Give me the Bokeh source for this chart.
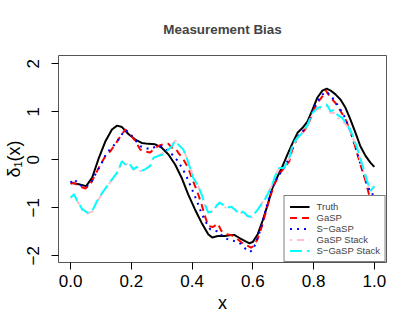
from bokeh.plotting import figure
from bokeh.models import Range1d, FixedTicker, PrintfTickFormatter, CustomJSTickFormatter, Legend, LegendItem
from bokeh.embed import file_html
from bokeh.resources import INLINE

x_truth = [0.0, 0.027, 0.051, 0.071, 0.093, 0.115, 0.136, 0.153, 0.169, 0.191, 0.213, 0.234, 0.256, 0.278, 0.300,
           0.322, 0.344, 0.365, 0.387, 0.409, 0.431, 0.453, 0.466, 0.485, 0.507, 0.529, 0.540, 0.556, 0.573, 0.589,
           0.600, 0.616, 0.632, 0.649, 0.665, 0.682, 0.698, 0.714, 0.731, 0.747, 0.763, 0.780, 0.796, 0.812, 0.829,
           0.843, 0.856, 0.872, 0.889, 0.905, 0.921, 0.938, 0.954, 0.971, 0.987, 1.0]
y_truth = [-0.48, -0.51, -0.55, -0.37, 0.04, 0.39, 0.63, 0.71, 0.68, 0.53, 0.42, 0.35, 0.33, 0.32, 0.25,
           0.11, -0.10, -0.37, -0.72, -1.03, -1.31, -1.55, -1.62, -1.59, -1.59, -1.57, -1.57, -1.63, -1.69, -1.74,
           -1.71, -1.55, -1.27, -0.93, -0.58, -0.34, -0.13, 0.11, 0.35, 0.56, 0.66, 0.80, 1.04, 1.29, 1.44,
           1.48, 1.44, 1.36, 1.25, 1.08, 0.84, 0.56, 0.28, 0.08, -0.06, -0.15]

x_gasp = [0.0, 0.011, 0.027, 0.049, 0.065, 0.082, 0.098, 0.115, 0.131, 0.147, 0.164, 0.180, 0.196, 0.213, 0.229,
          0.245, 0.262, 0.278, 0.294, 0.311, 0.322, 0.333, 0.344, 0.354, 0.371, 0.387, 0.403, 0.420, 0.431, 0.442,
          0.453, 0.469, 0.485, 0.496, 0.513, 0.529, 0.545, 0.562, 0.578, 0.594, 0.605, 0.622, 0.638, 0.654, 0.671,
          0.687, 0.703, 0.720, 0.731, 0.747, 0.763, 0.780, 0.796, 0.812, 0.829, 0.840, 0.856, 0.872, 0.889, 0.905,
          0.921, 0.938, 0.954, 0.971, 0.981, 0.989, 1.0]
y_gasp = [-0.50, -0.48, -0.55, -0.60, -0.51, -0.30, -0.10, 0.08, 0.18, 0.32, 0.49, 0.63, 0.53, 0.39, 0.21,
          0.17, 0.15, 0.25, 0.30, 0.33, 0.33, 0.25, 0.25, 0.15, 0.01, -0.17, -0.44, -0.72, -0.93, -1.17,
          -1.38, -1.40, -1.33, -1.48, -1.55, -1.57, -1.63, -1.72, -1.78, -1.83, -1.79, -1.55, -1.20, -0.82, -0.51,
          -0.30, -0.17, -0.03, 0.25, 0.46, 0.56, 0.70, 0.97, 1.18, 1.32, 1.44, 1.29, 1.18, 1.01, 0.84,
          0.60, 0.25, -0.10, -0.44, -0.69, -0.84, -0.92]

x_sgasp = [0.0, 0.011, 0.03, 0.05, 0.065, 0.08, 0.10, 0.115, 0.13, 0.15, 0.165, 0.18, 0.195, 0.21, 0.23,
           0.245, 0.26, 0.28, 0.30, 0.32, 0.34, 0.355, 0.37, 0.385, 0.40, 0.415, 0.43, 0.445, 0.46, 0.475,
           0.49, 0.50, 0.515, 0.53, 0.545, 0.56, 0.575, 0.59, 0.60, 0.615, 0.63, 0.645, 0.66, 0.675, 0.69,
           0.705, 0.72, 0.735, 0.75, 0.765, 0.78, 0.795, 0.81, 0.825, 0.84, 0.855, 0.87, 0.885, 0.90, 0.915,
           0.93, 0.945, 0.96, 0.975, 0.99, 1.0]
y_sgasp = [-0.48, -0.40, -0.53, -0.57, -0.50, -0.32, -0.10, 0.10, 0.22, 0.35, 0.50, 0.62, 0.55, 0.43, 0.28,
           0.25, 0.22, 0.27, 0.28, 0.18, 0.08, -0.05, -0.20, -0.40, -0.62, -0.85, -1.10, -1.30, -1.45, -1.48,
           -1.50, -1.60, -1.65, -1.68, -1.70, -1.75, -1.85, -1.92, -1.88, -1.65, -1.35, -0.98, -0.65, -0.42, -0.28,
           -0.15, 0.05, 0.30, 0.50, 0.60, 0.72, 0.98, 1.20, 1.33, 1.42, 1.35, 1.22, 1.08, 0.92, 0.70,
           0.42, 0.10, -0.20, -0.50, -0.72, -0.72]

x_stack = [0.0, 0.011, 0.022, 0.038, 0.055, 0.071, 0.087, 0.104, 0.120, 0.136, 0.153, 0.169, 0.180, 0.191, 0.207,
           0.218, 0.229, 0.245, 0.262, 0.273, 0.289, 0.305, 0.322, 0.333, 0.344, 0.354, 0.371, 0.382, 0.393, 0.403,
           0.420, 0.431, 0.442, 0.453, 0.469, 0.480, 0.491, 0.502, 0.513, 0.529, 0.540, 0.556, 0.567, 0.583, 0.597,
           0.611, 0.627, 0.643, 0.660, 0.676, 0.687, 0.703, 0.720, 0.731, 0.747, 0.763, 0.780, 0.796, 0.812, 0.829,
           0.843, 0.856, 0.867, 0.878, 0.894, 0.911, 0.927, 0.943, 0.960, 0.976, 0.987, 1.0]
y_gasp_stack = [-0.79, -0.75, -0.86, -1.05, -1.12, -1.08, -0.88, -0.70, -0.55, -0.42, -0.28, -0.05, -0.11, -0.07, -0.21,
                -0.16, -0.24, -0.20, -0.12, 0.05, 0.09, 0.14, 0.24, 0.31, 0.40, 0.34, 0.22, 0.05, -0.15, -0.36,
                -0.55, -0.73, -0.94, -1.10, -1.07, -0.97, -0.90, -0.95, -1.01, -0.99, -1.04, -1.13, -1.09, -1.18, -1.20,
                -1.07, -0.93, -0.77, -0.57, -0.30, -0.18, -0.17, 0.03, 0.30, 0.44, 0.55, 0.71, 0.94, 1.05, 1.08,
                1.12, 0.97, 0.98, 0.88, 0.81, 0.70, 0.50, 0.22, -0.12, -0.46, -0.66, -0.57]
y_sgasp_stack = [-0.79, -0.72, -0.86, -1.03, -1.10, -1.07, -0.86, -0.69, -0.55, -0.41, -0.27, -0.03, -0.10, -0.06, -0.20,
                 -0.15, -0.24, -0.20, -0.13, 0.04, 0.08, 0.11, 0.21, 0.28, 0.39, 0.32, 0.21, 0.04, -0.17, -0.37,
                 -0.55, -0.72, -0.93, -1.10, -1.07, -0.96, -0.89, -0.94, -1.00, -0.98, -1.03, -1.13, -1.08, -1.17, -1.19,
                 -1.08, -0.94, -0.79, -0.58, -0.30, -0.17, -0.17, 0.04, 0.32, 0.46, 0.56, 0.73, 0.97, 1.08, 1.11,
                 1.15, 1.01, 1.04, 0.94, 0.87, 0.73, 0.53, 0.25, -0.10, -0.44, -0.65, -0.55]

x_ticks = [0.0, 0.2, 0.4, 0.6, 0.8, 1.0]
y_ticks = [-2, -1, 0, 1, 2]
labels = ["Truth", "GaSP", "S\u2212GaSP", "GaSP Stack", "S\u2212GaSP Stack"]

FONT = "Liberation Sans"

p = figure(width=415, height=332, output_backend="svg", toolbar_location=None,
           x_range=Range1d(-0.04, 1.04), y_range=Range1d(-2.14, 2.17),
           min_border_left=57, min_border_right=29, min_border_top=54, min_border_bottom=70,
           title="Measurement Bias")
p.title.text_font = FONT
p.title.text_font_size = "13.4px"
p.title.text_font_style = "bold"
p.title.align = "center"
p.title.standoff = 38
p.grid.visible = False
p.outline_line_color = "#555555"
p.outline_line_width = 1
p.background_fill_color = "white"
p.border_fill_color = "white"

for ax in (p.xaxis[0], p.yaxis[0]):
    ax.axis_line_color = None
    ax.major_tick_line_color = "black"
    ax.major_tick_out = 7
    ax.major_tick_in = 0
    ax.minor_tick_line_color = None
    ax.major_label_text_font = FONT
    ax.major_label_text_font_size = "17px"
    ax.major_label_text_color = "black"
    ax.axis_label_text_font = FONT
    ax.axis_label_text_font_size = "18px"
    ax.axis_label_text_font_style = "normal"
    ax.axis_label_text_color = "black"

p.xaxis.ticker = FixedTicker(ticks=x_ticks)
p.xaxis.formatter = PrintfTickFormatter(format="%.1f")
p.xaxis.axis_label = "x"
p.xaxis.major_label_standoff = 5
p.xaxis.axis_label_standoff = 3

p.yaxis.ticker = FixedTicker(ticks=y_ticks)
p.yaxis.formatter = CustomJSTickFormatter(code="return tick < 0 ? '\\u2212' + Math.abs(tick) : String(tick);")
p.yaxis.major_label_orientation = "vertical"
p.yaxis.axis_label = "\u03b4\u2081(x)"
p.yaxis.major_label_standoff = 12
p.yaxis.axis_label_standoff = 1

r1 = p.line(x_truth, y_truth, line_color="black", line_width=2)
r2 = p.line(x_gasp, y_gasp, line_color="#FF0000", line_width=2, line_dash="7 5")
r3 = p.line(x_sgasp, y_sgasp, line_color="#0000FF", line_width=2, line_dash="2 5")
r4 = p.line(x_stack, y_gasp_stack, line_color="#FFC0CB", line_width=2, line_dash="2 5 7 5")
r5 = p.line(x_stack, y_sgasp_stack, line_color="#00FFFF", line_width=2, line_dash="12 5")

legend = Legend(items=[LegendItem(label=l, renderers=[r]) for l, r in zip(labels, [r1, r2, r3, r4, r5])],
                location="bottom_right", margin=0, padding=5, spacing=0,
                label_text_font=FONT, label_text_font_size="9.5px", label_height=11,
                glyph_height=11, glyph_width=20, label_standoff=7,
                border_line_color="black", border_line_width=1,
                background_fill_color="white", background_fill_alpha=1.0)
p.add_layout(legend)

open("out.html", "w").write(file_html(p, INLINE))
